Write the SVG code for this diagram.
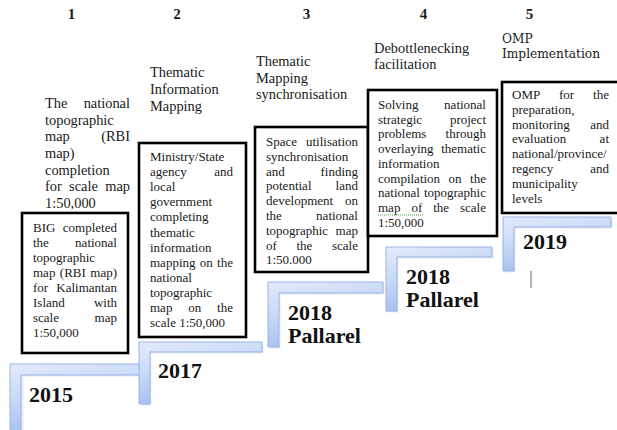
<svg xmlns="http://www.w3.org/2000/svg" width="617" height="430" viewBox="0 0 617 430">
<defs>
<linearGradient id="stepGrad" x1="0" y1="0" x2="0.35" y2="1">
<stop offset="0" stop-color="#e4ecfc"/>
<stop offset="0.5" stop-color="#c6d7f6"/>
<stop offset="1" stop-color="#a2bdee"/>
</linearGradient>
<style>
text{fill:#1a1a1a}
.num{font-family:"Liberation Serif",serif;font-weight:bold;font-size:15px;text-anchor:middle}
.h{font-family:"Liberation Serif",serif;font-size:14.4px}
.hc{font-family:"DejaVu Serif",serif;font-size:12.2px}
.b{font-family:"Liberation Serif",serif;font-size:13px}
.e{text-anchor:end}
.yr{font-family:"Liberation Serif",serif;font-weight:bold;font-size:22px;fill:#111}
.box{fill:#ffffff;stroke:#000;stroke-width:2.6}
.step{fill:url(#stepGrad);stroke:#97b3e8;stroke-width:1}
.shadow{fill:#c9d3e3;opacity:0.45}
</style>
</defs>
<rect width="617" height="430" fill="#ffffff"/>

<g id="connectors">
<g id="step1">
<path class="shadow" d="M11.5,365.5 H143.5 V376.5 H23.5 V433 H11.5 Z"/>
<path class="step" d="M10,364 H142 V375 H21 V432 H10 Z"/>
</g>
<g id="step2">
<path class="shadow" d="M140.5,343.5 H263.5 V353.5 H151.5 V405.5 H140.5 Z"/>
<path class="step" d="M139,342 H262 V352 H150 V404 H139 Z"/>
</g>
<g id="step3">
<path class="shadow" d="M269.5,283.5 H384.5 V294.5 H280.5 V348.5 H269.5 Z"/>
<path class="step" d="M268,282 H383 V293 H279 V347 H268 Z"/>
</g>
<g id="step4">
<path class="shadow" d="M387.5,248.5 H493.5 V258.5 H398.5 V312.5 H387.5 Z"/>
<path class="step" d="M386,247 H492 V257 H397 V311 H386 Z"/>
</g>
<g id="step5">
<path class="shadow" d="M504.5,218.5 H612.5 V228.5 H515.5 V272.5 H504.5 Z"/>
<path class="step" d="M503,217 H611 V227 H514 V271 H503 Z"/>
</g>
</g>

<g id="stage1">
<text class="num" x="71.5" y="19">1</text>
<text class="h" x="45" y="108">The</text><text class="h e" x="130" y="108">national</text>
<text class="h" x="45" y="124.7">topographic</text>
<text class="h" x="45" y="141.3">map</text><text class="h e" x="130" y="141.3">(RBI</text>
<text class="h" x="45" y="158">map)</text>
<text class="h" x="45" y="174.7">completion</text>
<text class="h" x="45" y="191.3">for</text><text class="h" x="69.1" y="191.3">scale</text><text class="h e" x="130" y="191.3">map</text>
<text class="h" x="45" y="208">1:50,000</text>
<rect class="box" x="22" y="213" width="106" height="140"/>
<text class="b" x="33" y="232">BIG</text><text class="b e" x="117" y="232">completed</text>
<text class="b" x="33" y="247">the</text><text class="b e" x="117" y="247">national</text>
<text class="b" x="33" y="262">topographic</text>
<text class="b" x="33" y="277">map</text><text class="b" x="59.8" y="277">(RBI</text><text class="b e" x="117" y="277">map)</text>
<text class="b" x="33" y="292">for</text><text class="b e" x="117" y="292">Kalimantan</text>
<text class="b" x="33" y="307">Island</text><text class="b e" x="117" y="307">with</text>
<text class="b" x="33" y="322">scale</text><text class="b e" x="117" y="322">map</text>
<text class="b" x="33" y="337">1:50,000</text>
<text class="yr" x="29" y="402">2015</text>
</g>

<g id="stage2">
<text class="num" x="177" y="19">2</text>
<text class="h" x="150" y="77">Thematic</text>
<text class="h" x="150" y="94">Information</text>
<text class="h" x="150" y="111">Mapping</text>
<rect class="box" x="139" y="143" width="107" height="194"/>
<text class="b" x="150" y="161">Ministry/State</text>
<text class="b" x="150" y="176.1">agency</text><text class="b e" x="233" y="176.1">and</text>
<text class="b" x="150" y="191.2">local</text>
<text class="b" x="150" y="206.3">government</text>
<text class="b" x="150" y="221.4">completing</text>
<text class="b" x="150" y="236.5">thematic</text>
<text class="b" x="150" y="251.6">information</text>
<text class="b" x="150" y="266.7">mapping</text><text class="b" x="199.8" y="266.7">on</text><text class="b e" x="233" y="266.7">the</text>
<text class="b" x="150" y="281.8">national</text>
<text class="b" x="150" y="296.9">topographic</text>
<text class="b" x="150" y="312">map</text><text class="b" x="188.3" y="312">on</text><text class="b e" x="233" y="312">the</text>
<text class="b" x="150" y="327.1">scale 1:50,000</text>
<text class="yr" x="158" y="378">2017</text>
</g>

<g id="stage3">
<text class="num" x="306.5" y="19">3</text>
<text class="h" x="256" y="66">Thematic</text>
<text class="h" x="256" y="82.5">Mapping</text>
<text class="h" x="256" y="99">synchronisation</text>
<rect class="box" x="255" y="127" width="113" height="145"/>
<text class="b" x="266" y="146">Space</text><text class="b e" x="358" y="146">utilisation</text>
<text class="b" x="266" y="160.8">synchronisation</text>
<text class="b" x="266" y="175.6">and</text><text class="b e" x="358" y="175.6">finding</text>
<text class="b" x="266" y="190.4">potential</text><text class="b e" x="358" y="190.4">land</text>
<text class="b" x="266" y="205.2">development</text><text class="b e" x="358" y="205.2">on</text>
<text class="b" x="266" y="220">the</text><text class="b e" x="358" y="220">national</text>
<text class="b" x="266" y="234.8">topographic</text><text class="b e" x="358" y="234.8">map</text>
<text class="b" x="266" y="249.6">of</text><text class="b" x="296.5" y="249.6">the</text><text class="b e" x="358" y="249.6">scale</text>
<text class="b" x="266" y="264.4">1:50.000</text>
<text class="yr" x="288" y="320">2018</text>
<text class="yr" x="288" y="343">Pallarel</text>
</g>

<g id="stage4">
<text class="num" x="423.5" y="19">4</text>
<text class="h" x="374" y="53">Debottlenecking</text>
<text class="h" x="374" y="69">facilitation</text>
<rect class="box" x="368" y="90" width="129" height="146"/>
<text class="b" x="378" y="109">Solving</text><text class="b e" x="486" y="109">national</text>
<text class="b" x="378" y="123.7">strategic</text><text class="b e" x="486" y="123.7">project</text>
<text class="b" x="378" y="138.4">problems</text><text class="b e" x="486" y="138.4">through</text>
<text class="b" x="378" y="153.1">overlaying</text><text class="b e" x="486" y="153.1">thematic</text>
<text class="b" x="378" y="167.8">information</text>
<text class="b" x="378" y="182.5">compilation</text><text class="b" x="448.6" y="182.5">on</text><text class="b e" x="486" y="182.5">the</text>
<text class="b" x="378" y="197.2">national</text><text class="b e" x="486" y="197.2">topographic</text>
<text class="b" x="378" y="211.9">map</text><text class="b" x="411.4" y="211.9">of</text><text class="b" x="433.2" y="211.9">the</text><text class="b e" x="486" y="211.9">scale</text>
<path d="M378,215 H423" fill="none" stroke="#4f9a3a" stroke-width="1" stroke-dasharray="1 1"/>
<text class="b" x="378" y="226.6">1:50,000</text>
<text class="yr" x="406" y="284">2018</text>
<text class="yr" x="406" y="307">Pallarel</text>
</g>

<g id="stage5">
<text class="num" x="529.5" y="19">5</text>
<text class="hc" x="502" y="43">OMP</text>
<text class="hc" x="502" y="58">Implementation</text>
<rect class="box" x="502" y="82" width="120" height="131"/>
<text class="b" x="512" y="99">OMP</text><text class="b" x="559" y="99">for</text><text class="b e" x="609" y="99">the</text>
<text class="b" x="512" y="113.8">preparation,</text>
<text class="b" x="512" y="128.6">monitoring</text><text class="b e" x="609" y="128.6">and</text>
<text class="b" x="512" y="143.4">evaluation</text><text class="b e" x="609" y="143.4">at</text>
<text class="b" x="512" y="158.2">national/province/</text>
<text class="b" x="512" y="173">regency</text><text class="b e" x="609" y="173">and</text>
<text class="b" x="512" y="187.8">municipality</text>
<text class="b" x="512" y="202.6">levels</text>
<text class="yr" x="523" y="249">2019</text>
<path d="M531,271 V288" stroke="#9a9a9a" stroke-width="1.5"/>
</g>
</svg>
